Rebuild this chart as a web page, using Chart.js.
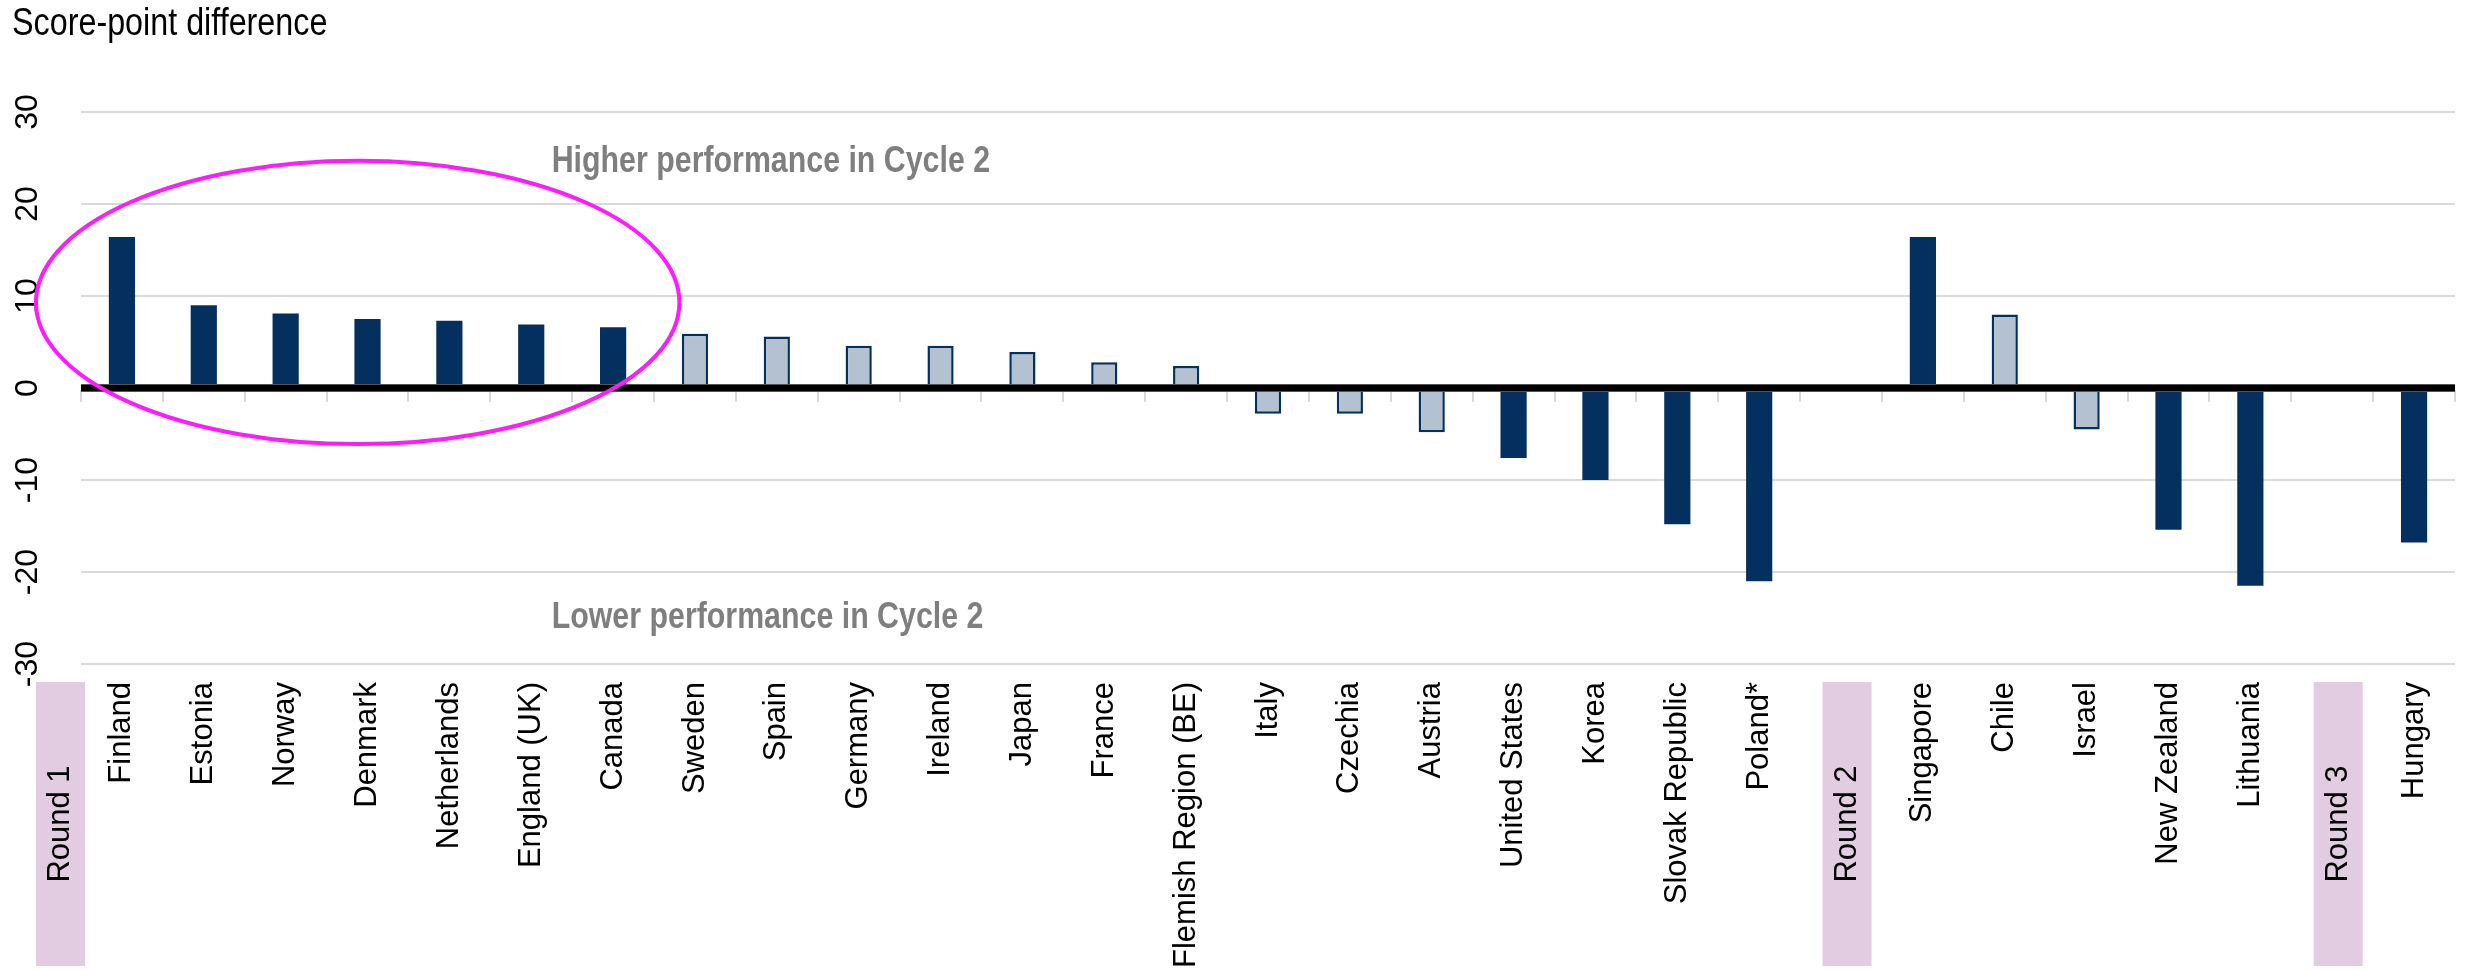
<!DOCTYPE html>
<html>
<head>
<meta charset="utf-8">
<script src="https://cdn.jsdelivr.net/npm/chart.js@4.4.1/dist/chart.umd.min.js"></script>
<style>
  html, body { margin: 0; padding: 0; background: #fff; }
  #wrap { width: 2476px; height: 970px; position: relative; }
</style>
</head>
<body>
<div id="wrap"><canvas id="chart"></canvas></div>
<script>
// categories, in chart order ("Round" entries are group separators, no bar)
var countries = ["Finland", "Estonia", "Norway", "Denmark", "Netherlands", "England (UK)", "Canada",
    "Sweden", "Spain", "Germany", "Ireland", "Japan", "France", "Flemish Region (BE)", "Italy",
    "Czechia", "Austria", "United States", "Korea", "Slovak Republic", "Poland*", "Round 2",
    "Singapore", "Chile", "Israel", "New Zealand", "Lithuania", "Round 3", "Hungary"];
// score-point difference (Cycle 2 minus Cycle 1)
var scoreDiff = [16.4, 9.0, 8.1, 7.5, 7.3, 6.9, 6.6,
    5.9, 5.6, 4.6, 4.6, 3.9, 2.8, 2.4, -2.8,
    -2.8, -4.8, -7.6, -10.0, -14.8, -21.0, null,
    16.4, 8.0, -4.5, -15.4, -21.5, null, -16.8];
// 1 = statistically significant difference (dark bar)
var significant = [1, 1, 1, 1, 1, 1, 1,
    0, 0, 0, 0, 0, 0, 0, 0,
    0, 0, 1, 1, 1, 1, 0,
    1, 0, 0, 1, 1, 0, 1];
var yMin = -30, yMax = 30, yStep = 10;

var DARK = "#04305F";
var LIGHT = "#B3C1D1";
var FONT = "'Liberation Sans', Arial, sans-serif";

function isRound(label) { return label.indexOf("Round") === 0; }

// condensed text (no narrow face installed, so squeeze horizontally)
function narrowText(ctx, text, x, y, squeeze) {
    ctx.save();
    ctx.translate(x, y);
    ctx.scale(squeeze, 1);
    ctx.fillText(text, 0, 0);
    ctx.restore();
}

var decor = {
    id: "decor",
    afterDatasetsDraw: function (chart) {
        var ctx = chart.ctx, x = chart.scales.x, y = chart.scales.y;
        var step = (x.right - x.left) / countries.length;
        var y0 = y.getPixelForValue(0);
        ctx.save();
        // small ticks under the zero line at category boundaries
        ctx.strokeStyle = "#D9D9D9";
        ctx.lineWidth = 2;
        for (var i = 0; i <= countries.length; i++) {
            var px = Math.round(x.left + i * step);
            ctx.beginPath();
            ctx.moveTo(px, y0 + 2);
            ctx.lineTo(px, y0 + 14);
            ctx.stroke();
        }
        // zero line
        ctx.fillStyle = "#555";
        ctx.fillRect(x.left, y0 - 4, x.right - x.left, 8);
        ctx.fillStyle = "#000";
        ctx.fillRect(x.left, y0 - 3, x.right - x.left, 6);

        // y labels, rotated
        ctx.fillStyle = "#000";
        ctx.font = "32px " + FONT;
        ctx.textAlign = "center";
        ctx.textBaseline = "middle";
        y.ticks.forEach(function (t) {
            var py = y.getPixelForValue(t.value);
            ctx.save();
            ctx.translate(28, py);
            ctx.rotate(-Math.PI / 2);
            ctx.fillText(String(t.value), 0, 0);
            ctx.restore();
        });

        // round boxes
        var boxTop = 682, boxBottom = 966, bw = 49;
        var rounds = [{ label: "Round 1", cx: x.left - step * 0.25 }];
        countries.forEach(function (c, i) {
            if (isRound(c)) rounds.push({ label: c, cx: x.getPixelForValue(i) + 6 });
        });
        rounds.forEach(function (r) {
            ctx.fillStyle = "#E1CCE1";
            ctx.fillRect(r.cx - bw / 2, boxTop, bw, boxBottom - boxTop);
            ctx.save();
            ctx.translate(r.cx, (boxTop + boxBottom) / 2);
            ctx.rotate(-Math.PI / 2);
            ctx.fillStyle = "#000";
            ctx.font = "31px " + FONT;
            ctx.textAlign = "center";
            ctx.textBaseline = "middle";
            ctx.fillText(r.label, 0, 0);
            ctx.restore();
        });

        // title
        ctx.fillStyle = "#000";
        ctx.font = "38px " + FONT;
        ctx.textAlign = "left";
        ctx.textBaseline = "middle";
        narrowText(ctx, "Score-point difference", 12, 25, 0.85);

        // annotations
        ctx.fillStyle = "#7F7F7F";
        ctx.font = "bold 37px " + FONT;
        var tx = x.getPixelForValue(0) + step * 5.25;
        narrowText(ctx, "Higher performance in Cycle 2", tx, y.getPixelForValue(24.6), 0.82);
        narrowText(ctx, "Lower performance in Cycle 2", tx, y.getPixelForValue(-25), 0.82);

        // highlight ellipse round the first group
        var cx = x.getPixelForValue(0) + step * 2.88;
        var cy = y.getPixelForValue(9.3);
        var rx = step * 3.93;
        var ry = y0 - y.getPixelForValue(15.4);
        ctx.strokeStyle = "#FF1AFF";
        ctx.lineWidth = 4;
        ctx.beginPath();
        ctx.ellipse(cx, cy, rx, ry, 0, 0, Math.PI * 2);
        ctx.stroke();
        ctx.restore();
    }
};

new Chart(document.getElementById("chart"), {
    type: "bar",
    data: {
        labels: countries,
        datasets: [{
            data: scoreDiff,
            backgroundColor: significant.map(function (s) { return s ? DARK : LIGHT; }),
            borderColor: DARK,
            borderWidth: significant.map(function (s) { return s ? 0 : 2.5; }),
            barPercentage: 0.32,
            categoryPercentage: 1
        }]
    },
    options: {
        responsive: true,
        maintainAspectRatio: false,
        animation: false,
        layout: { padding: { top: 112, right: 21, left: 0, bottom: 0 } },
        plugins: { legend: { display: false }, tooltip: { enabled: false } },
        scales: {
            x: {
                grid: { display: false },
                border: { display: false },
                ticks: {
                    autoSkip: false,
                    minRotation: 90,
                    maxRotation: 90,
                    padding: 10,
                    color: "#000",
                    font: { family: FONT, size: 31 },
                    callback: function (v, i) { return isRound(countries[i]) ? "" : countries[i]; }
                },
                afterFit: function (s) { s.height = 306; }
            },
            y: {
                min: yMin,
                max: yMax,
                ticks: { stepSize: yStep, display: false },
                border: { display: false },
                grid: {
                    color: function (c) { return c.tick && c.tick.value === 0 ? "rgba(0,0,0,0)" : "#D9D9D9"; },
                    lineWidth: 2,
                    drawTicks: false
                },
                afterFit: function (s) { s.width = 81; }
            }
        }
    },
    plugins: [decor]
});
</script>
</body>
</html>
